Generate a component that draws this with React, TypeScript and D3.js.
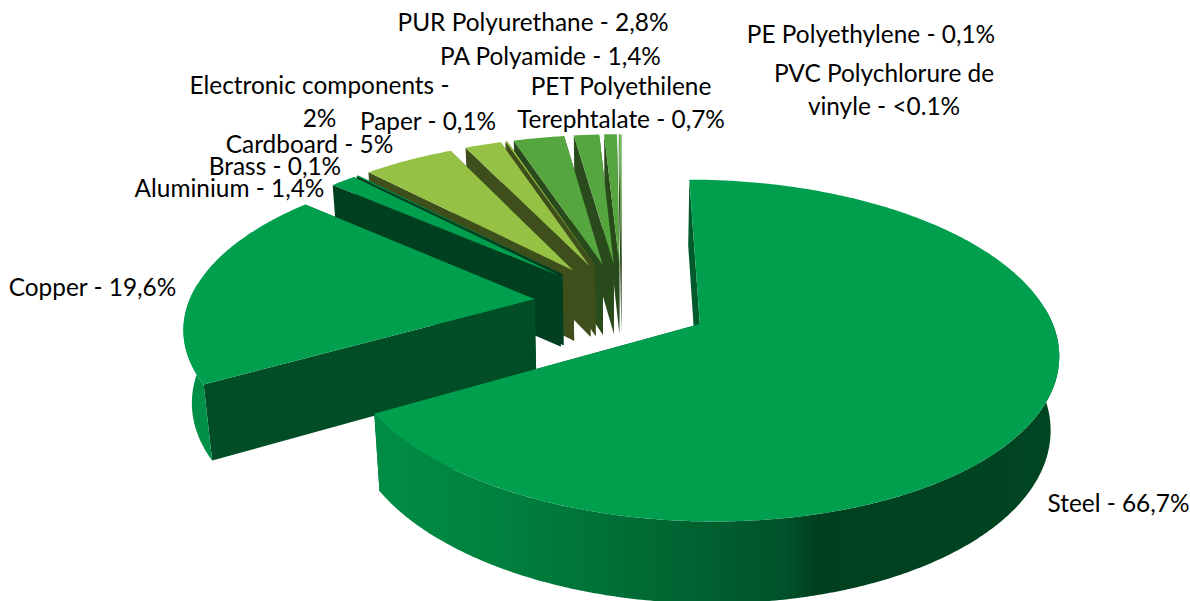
import React from "react";
import * as d3 from "d3";

const categories = ["Steel","Copper","Aluminium","Brass","Cardboard","Electronic components","Paper","PUR Polyurethane","PA Polyamide","PET Polyethilene","PE Polyethylene","PVC Polychlorure de vinyle"];
const shares = [66.7,19.6,1.4,0.1,5,2,0.1,2.8,1.4,0.7,0.1,0.05];
const topColors = ["#009F4D","#009F4D","#009F4D","#009F4D","#95C245","#95C245","#95C245","#55A63F","#55A63F","#55A63F","#55A63F","#7FBB62"];
const wallColors = ["#005A2C","#004D26","#003F20","#003F20","#3F4F1B","#3F4F1B","#3F4F1B","#294A1B","#294A1B","#294A1B","#294A1B","#294A1B"];
const labelLines = [["Steel - 66,7%"],["Copper - 19,6%"],["Aluminium - 1,4%"],["Brass - 0,1%"],["Cardboard - 5%"],["Electronic components -","2%"],["Paper - 0,1%"],["PUR Polyurethane - 2,8%"],["PA Polyamide - 1,4%"],["PET Polyethilene","Terephtalate - 0,7%"],["PE Polyethylene - 0,1%"],["PVC Polychlorure de","vinyle - <0.1%"]];
const labelAnchors = [[1118.5,512],[92.5,296],[229.5,197],[275,175],[309.5,153],[319.5,94],[428,130],[533,31],[550.5,65],[621,95],[871,43],[884,82]];

const W = 1190, H = 601;
const CX = 622, CY = 303, FOCAL = 346, DIST = 5.8, TILT = 27.6 * Math.PI / 180;
const EXPLODE = 0.255, DEPTH = 0.24;

function project(X: number, Y: number, Z: number): [number, number] {
  const zc = DIST + Y * Math.cos(TILT) - Z * Math.sin(TILT);
  const s = (FOCAL * DIST) / zc;
  return [CX + s * X, CY - s * (Y * Math.sin(TILT) + Z * Math.cos(TILT))];
}
const line = d3.line<[number, number]>();
const pieGen = d3.pie<number>().sort(null).value((d) => d);
const arcs = pieGen(shares);

function rim(a0: number, a1: number, ox: number, oy: number, z: number): [number, number][] {
  const n = Math.max(2, Math.ceil((a1 - a0) / 0.01));
  return d3.range(n + 1).map((i) => {
    const a = a0 + ((a1 - a0) * i) / n;
    return project(ox + Math.sin(a), oy + Math.cos(a), z);
  });
}

export default function App() {
  const order = d3.range(shares.length).reverse();
  order.splice(order.indexOf(1), 1); order.splice(order.indexOf(0), 1);
  order.push(1, 0);
  return (
    <svg width={W} height={H} viewBox={`0 0 ${W} ${H}`} style={{ position: "absolute", left: 0, top: 0 }}>
      <defs>
        <linearGradient id="steelWall" gradientUnits="userSpaceOnUse" x1={372} x2={1060} y1={0} y2={0}>
          <stop offset="0" stopColor="#008D46" />
          <stop offset="0.15" stopColor="#008440" />
          <stop offset="0.4" stopColor="#006A34" />
          <stop offset="0.6" stopColor="#00522A" />
          <stop offset="0.645" stopColor="#004020" />
          <stop offset="1" stopColor="#004522" />
        </linearGradient>
      </defs>
      {order.map((i) => {
        const a = arcs[i];
        const mid = (a.startAngle + a.endAngle) / 2;
        const ox = EXPLODE * Math.sin(mid), oy = EXPLODE * Math.cos(mid);
        const apexT = project(ox, oy, 0), apexB = project(ox, oy, -DEPTH);
        const side = (t: number): [number, number][] => [
          apexT, project(ox + Math.sin(t), oy + Math.cos(t), 0),
          project(ox + Math.sin(t), oy + Math.cos(t), -DEPTH), apexB,
        ];
        const top = [apexT, ...rim(a.startAngle, a.endAngle, ox, oy, 0)];
        const lo = Math.max(a.startAngle, Math.PI * 0.47), hi = Math.min(a.endAngle, Math.PI * 1.53);
        const hasOuter = hi > lo;
        const outer = hasOuter ? [...rim(lo, hi, ox, oy, 0), ...rim(lo, hi, ox, oy, -DEPTH).reverse()] : [];
        const outerFill = i === 0 ? "url(#steelWall)" : "#008F47";
        return (
          <g key={categories[i]}>
            <path d={line(side(a.endAngle))! + "Z"} fill={wallColors[i]} />
            <path d={line(side(a.startAngle))! + "Z"} fill={wallColors[i]} />
            {hasOuter && <path d={line(outer)! + "Z"} fill={outerFill} />}
            <path d={line(top)! + "Z"} fill={topColors[i]} />
          </g>
        );
      })}
      <g fontFamily="Lato, 'Open Sans', sans-serif" fontSize={24.4} fill="#000" textAnchor="middle">
        {labelLines.map((ls, i) => ls.map((t, k) => (
          <text key={t} x={labelAnchors[i][0]} y={labelAnchors[i][1] + k * 33}>{t}</text>
        )))}
      </g>
    </svg>
  );
}
